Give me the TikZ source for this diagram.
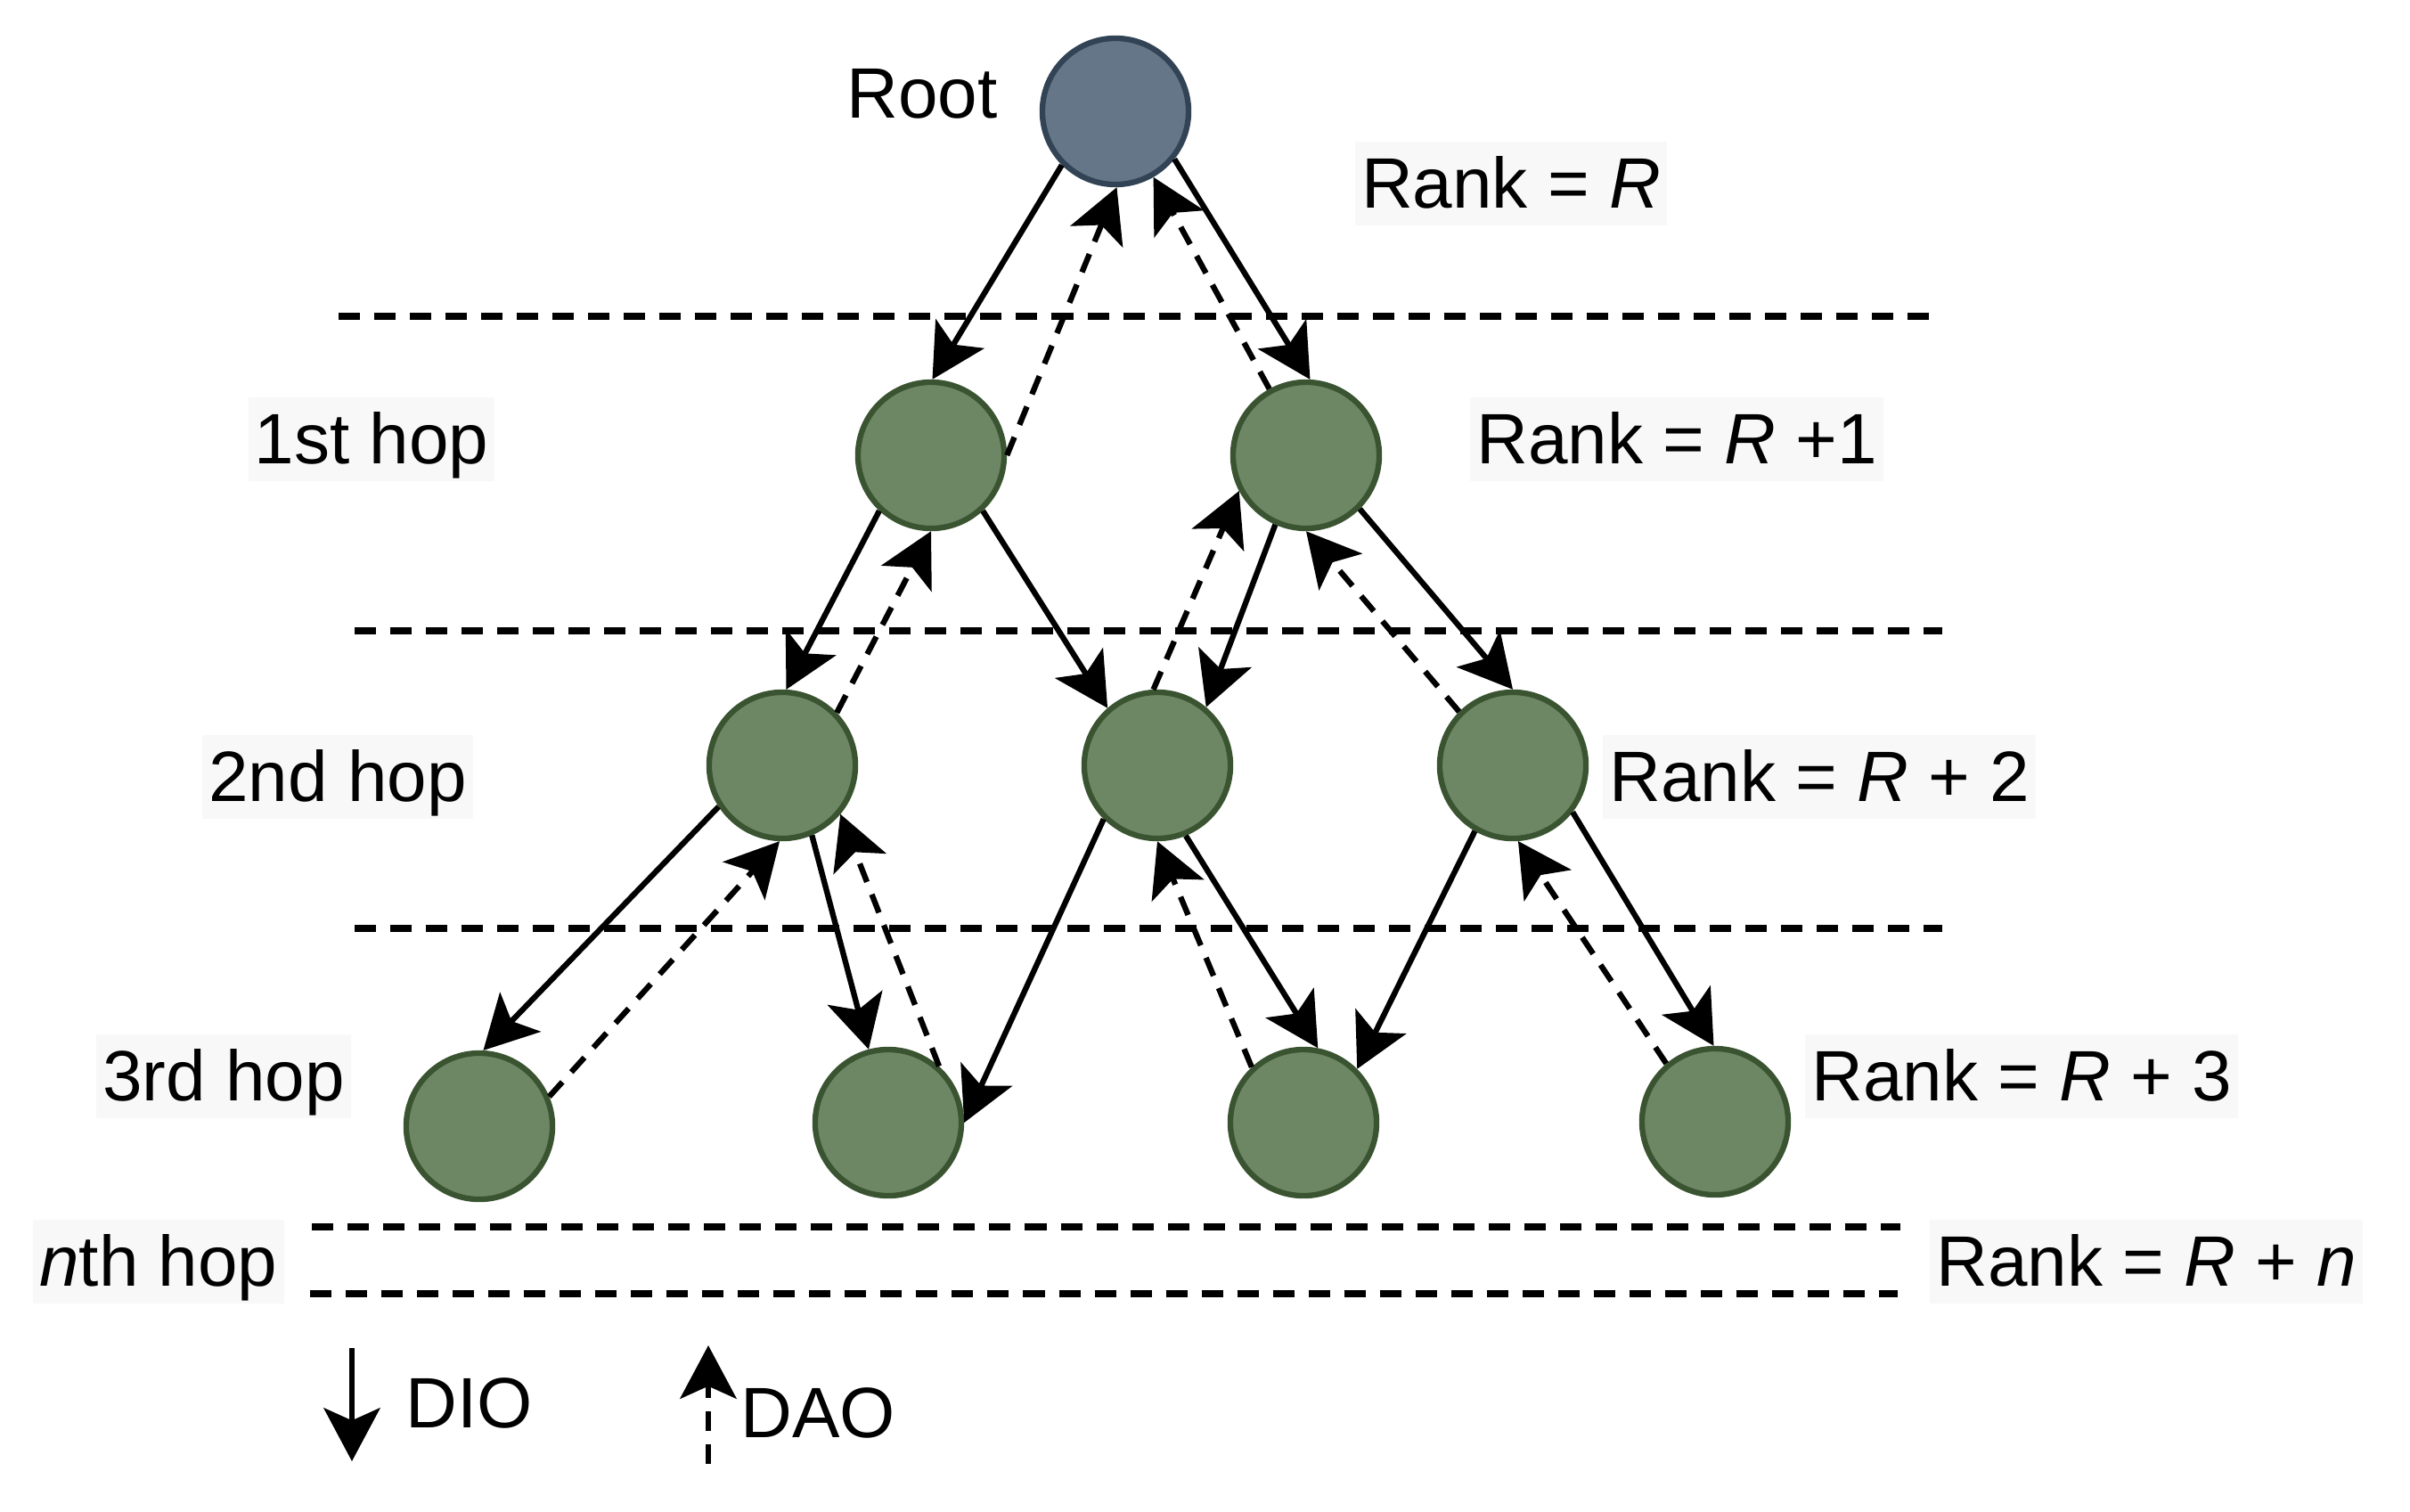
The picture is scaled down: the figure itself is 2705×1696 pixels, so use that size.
\documentclass[tikz,border=0pt]{standalone}
\usepackage{fontspec}
\setmainfont{Liberation Sans}
\usetikzlibrary{arrows.meta}
\definecolor{rootfill}{HTML}{647687}
\definecolor{rootline}{HTML}{314354}
\definecolor{nodefill}{HTML}{6D8764}
\definecolor{nodeline}{HTML}{3A5431}
\definecolor{labelbg}{HTML}{F8F8F8}
\begin{document}
\begin{tikzpicture}[x=0.01cm,y=-0.01cm,
  font=\fontsize{22.76pt}{27pt}\selectfont,
  rootnode/.style={circle, draw=rootline, fill=rootfill, line width=1.8pt, minimum size=1.64cm, inner sep=0pt},
  hopnode/.style={circle, draw=nodeline, fill=nodefill, line width=1.8pt, minimum size=1.64cm, inner sep=0pt},
  lbl/.style={fill=labelbg, inner xsep=0.07cm, inner ysep=0.09cm, text height=0.645cm, text depth=0.105cm},
  plain/.style={inner sep=0pt, anchor=base},
  dio/.style={line width=1.8pt, -{Stealth[length=17pt,width=18pt,inset=4pt]}},
  dao/.style={dio, dash pattern=on 0.22cm off 0.15cm},
  level/.style={line width=2.2pt, dash pattern=on 0.24cm off 0.16cm},
]
\useasboundingbox[fill=white] (0,0) rectangle (2705,1696);

% level separators
\draw[level] (380,355) -- (2165,355);
\draw[level] (398,708) -- (2180,708);
\draw[level] (398,1042) -- (2180,1042);
\draw[level] (350,1377) -- (2133,1377);
\draw[level] (348,1452) -- (2130,1452);

% nodes
\node[rootnode] (root) at (1252,125) {};
\node[hopnode] (l1a) at (1045,511) {};
\node[hopnode] (l1b) at (1466,511) {};
\node[hopnode] (l2a) at (878,859) {};
\node[hopnode] (l2b) at (1299,859) {};
\node[hopnode] (l2c) at (1698,859) {};
\node[hopnode] (l3a) at (538,1264) {};
\node[hopnode] (l3b) at (997,1260) {};
\node[hopnode] (l3c) at (1463,1260) {};
\node[hopnode] (l3d) at (1925,1259) {};

% labels
\node[plain] (troot) at (1035,132) {Root};
\node[lbl] (rk0) at (1696,206) {Rank = \textit{R}};
\node[lbl] (rk1) at (1882,493) {Rank = \textit{R} +1};
\node[lbl] (hop1) at (417,493) {1st hop};
\node[lbl] (hop2) at (379,872) {2nd hop};
\node[lbl] (rk2) at (2042,872) {Rank = \textit{R} + 2};
\node[lbl] (hop3) at (251,1208) {3rd hop};
\node[lbl] (rk3) at (2269,1208) {Rank = \textit{R} + 3};
\node[lbl] (hopn) at (178,1416) {\textit{n}th hop};
\node[lbl] (rkn) at (2409,1416) {Rank = \textit{R} + \textit{n}};

% DIO (downward, solid)
\draw[dio] (root.225) -- (l1a.89);
\draw[dio] (root.321) -- (l1b.87);
\draw[dio] (l1a.227) -- (l2a.87);
\draw[dio] (l1a.313) -- (l2b.131);
\draw[dio] (l1b.246) -- (l2b.50);
\draw[dio] (l1b.315) -- (l2c.90);
\draw[dio] (l2a.213) -- (l3a.87);
\draw[dio] (l2a.293) -- (l3b.105);
\draw[dio] (l2b.225) -- (l3b.0);
\draw[dio] (l2b.292) -- (l3c.79);
\draw[dio] (l2c.240) -- (l3c.45);
\draw[dio] (l2c.322) -- (l3d.91);

% DAO (upward, dashed)
\draw[dao] (l1a.0) -- (root.271);
\draw[dao] (l1b.119) -- (root.300);
\draw[dao] (l2a.44) -- (l1a.270);
\draw[dao] (l2b.93) -- (l1b.208);
\draw[dao] (l2c.135) -- (l1b.270);
\draw[dao] (l3a.23) -- (l2a.268);
\draw[dao] (l3b.48) -- (l2a.320);
\draw[dao] (l3c.133) -- (l2b.270);
\draw[dao] (l3d.130) -- (l2c.274);

% legend
\coordinate (dioS) at (395,1513);
\coordinate (dioE) at (395,1640);
\coordinate (daoS) at (795,1643);
\coordinate (daoE) at (795,1510);
\draw[dio] (dioS) -- (dioE);
\draw[dao] (daoS) -- (daoE);
\node[plain] (tdio) at (527,1602) {DIO};
\node[plain] (tdao) at (918,1613) {DAO};
\end{tikzpicture}
\end{document}
